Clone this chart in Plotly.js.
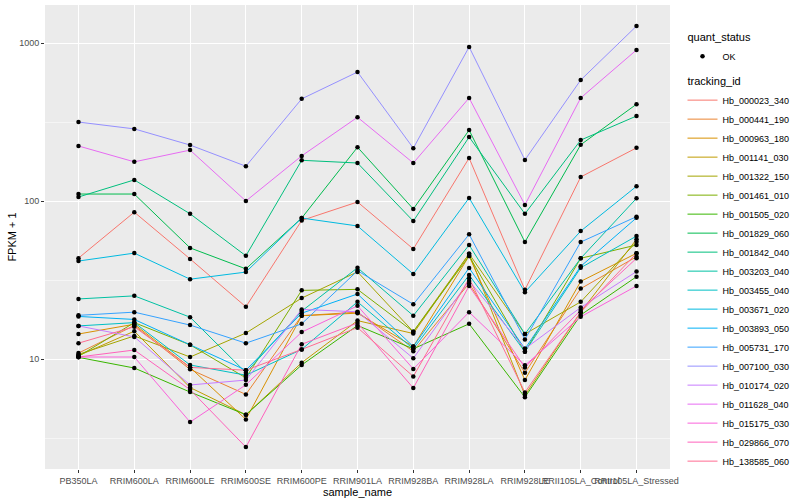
<!DOCTYPE html>
<html>
<head>
<meta charset="utf-8">
<script src="https://cdn.plot.ly/plotly-3.0.1.min.js"></script>
<style>html,body{margin:0;padding:0;background:#fff;}#chart{width:800px;height:500px;}</style>
</head>
<body>
<div id="chart"></div>
<script>
// ---- data ----
const sampleNames = ["PB350LA","RRIM600LA","RRIM600LE","RRIM600SE","RRIM600PE","RRIM901LA","RRIM928BA","RRIM928LA","RRIM928LE","RRII105LA_Control","RRII105LA_Stressed"];
const trackingIds = ["Hb_000023_340","Hb_000441_190","Hb_000963_180","Hb_001141_030","Hb_001322_150","Hb_001461_010","Hb_001505_020","Hb_001829_060","Hb_001842_040","Hb_003203_040","Hb_003455_040","Hb_003671_020","Hb_003893_050","Hb_005731_170","Hb_007100_030","Hb_010174_020","Hb_011628_040","Hb_015175_030","Hb_029866_070","Hb_138585_060"];

const Hb_000023_340 = [43.5, 85, 43, 21.4, 75.3, 98.6, 49.7, 187, 27.4, 142, 217];
const Hb_000441_190 = [10.9, 16.3, 8.6, 5.97, 18.8, 19.8, 11.2, 30.1, 8.18, 27.9, 44.4];
const Hb_000963_180 = [14.4, 16.6, 8.85, 4.15, 18.8, 19.5, 12.0, 44.9, 7.36, 31.0, 46.7];
const Hb_001141_030 = [10.5, 15.0, 6.6, 4.44, 9.48, 17.5, 14.5, 46.3, 5.91, 19.8, 57.3];
const Hb_001322_150 = [10.7, 14.0, 10.3, 14.6, 24.3, 35.6, 14.9, 46.3, 14.4, 23.0, 55.2];
const Hb_001461_010 = [10.4, 17.0, 12.3, 7.6, 27.2, 27.6, 14.9, 44.9, 11.1, 43.4, 52.7];
const Hb_001505_020 = [10.25, 8.77, 6.18, 4.44, 9.17, 16.3, 11.6, 16.7, 5.73, 19.0, 33.2];
const Hb_001829_060 = [110.7, 110.7, 50.5, 37.2, 78, 219, 89, 281, 55, 227, 410];
const Hb_001842_040 = [106, 136, 83, 45, 181, 174, 74.6, 254, 83, 243, 345];
const Hb_003203_040 = [24.0, 25.1, 18.4, 8.2, 20.1, 37.8, 18.8, 52.7, 14.4, 43.4, 104];
const Hb_003455_040 = [16.2, 17.0, 9.17, 7.9, 11.5, 23.0, 11.6, 34.0, 11.1, 37.8, 60];
const Hb_003671_020 = [41.7, 46.8, 32, 35.5, 78, 69.5, 34.5, 104.6, 26.5, 64.5, 124];
const Hb_003893_050 = [18.6, 17.8, 12.3, 8.5, 19.5, 25.8, 12.0, 37.7, 11.6, 38.6, 78.3];
const Hb_005731_170 = [18.9, 19.8, 16.4, 12.6, 16.7, 36.2, 22.2, 61.5, 13.3, 55, 79.6];
const Hb_007100_030 = [316, 286, 226, 166, 443, 655, 216, 944, 182, 583, 1280];
const Hb_010174_020 = [16.2, 13.8, 6.85, 7.36, 20.6, 19.9, 10.1, 31.2, 11.6, 21.2, 35.8];
const Hb_011628_040 = [223, 177, 210, 100, 193, 339, 174, 449, 94.5, 449, 904];
const Hb_015175_030 = [10.3, 10.3, 3.99, 6.87, 14.8, 21.7, 8.65, 19.8, 9.12, 18.5, 29.0];
const Hb_029866_070 = [10.3, 11.4, 6.4, 2.77, 12.4, 16.9, 6.55, 29.0, 8.85, 20.4, 43.4];
const Hb_138585_060 = [12.6, 16.0, 8.85, 8.5, 11.5, 15.8, 7.76, 32.4, 6.15, 19.8, 46.7];

const yTickVals = [10, 100, 1000];
const yTickText = ["10", "100", "1000"];

// ---- styles ----
const seriesColors = ["#F8766D","#EA8331","#D89000","#C09B00","#A3A500","#7CAE00","#39B600","#00BB4E","#00BF7D","#00C1A3","#00BFC4","#00BAE0","#00B0F6","#35A2FF","#9590FF","#C77CFF","#E76BF3","#FA62DB","#FF62BC","#FF6C91"];

const seriesValues = [Hb_000023_340,Hb_000441_190,Hb_000963_180,Hb_001141_030,Hb_001322_150,Hb_001461_010,Hb_001505_020,Hb_001829_060,Hb_001842_040,Hb_003203_040,Hb_003455_040,Hb_003671_020,Hb_003893_050,Hb_005731_170,Hb_007100_030,Hb_010174_020,Hb_011628_040,Hb_015175_030,Hb_029866_070,Hb_138585_060];

const FONT = "Liberation Sans, Arial, Helvetica, sans-serif";
const traces = [];
trackingIds.forEach((id, i) => {
  traces.push({
    type: "scatter", mode: "lines", name: id,
    x: sampleNames, y: seriesValues[i],
    line: {color: seriesColors[i], width: 1},
    legendgroup: "tracking", legendrank: 100 + i,
    legendgrouptitle: {text: "tracking_id", font: {size: 11, color: "#000"}},
    hoverinfo: "skip"
  });
});
const allX = [], allY = [];
seriesValues.forEach(v => { v.forEach((val, j) => { allX.push(sampleNames[j]); allY.push(val); }); });
traces.push({
  type: "scatter", mode: "markers", name: "OK",
  x: allX, y: allY,
  marker: {color: "#000", size: 4.5},
  legendgroup: "quant", legendrank: 1,
  legendgrouptitle: {text: "quant_status", font: {size: 11, color: "#000"}}
});

const minorVals = [Math.sqrt(10), Math.sqrt(1000), Math.sqrt(100000)];

const layout = {
  width: 800, height: 500,
  margin: {l: 45, r: 116, t: 5, b: 31},
  paper_bgcolor: "#FFFFFF", plot_bgcolor: "#EBEBEB",
  font: {family: FONT, size: 9, color: "#4D4D4D"},
  showlegend: true,
  legend: {x: 1.02, xanchor: "left", y: 0.962, yanchor: "top", traceorder: "grouped",
           tracegroupgap: 6, font: {size: 9, color: "#000"}, bgcolor: "rgba(0,0,0,0)", itemwidth: 30},
  xaxis: {
    type: "category", categoryorder: "array", categoryarray: sampleNames,
    range: [-0.6, 10.6], showgrid: true, gridcolor: "#FFFFFF", gridwidth: 1,
    zeroline: false, showline: false, ticks: "outside", ticklen: 3, tickcolor: "#333333",
    tickangle: 0, tickfont: {size: 9, color: "#4D4D4D", family: FONT},
    title: {text: "sample_name", font: {size: 11, color: "#000", family: FONT}, standoff: 0},
    automargin: false, fixedrange: true
  },
  yaxis: {
    type: "log", range: [0.304, 3.2405],
    tickmode: "array", tickvals: yTickVals, ticktext: yTickText,
    showgrid: true, gridcolor: "#FFFFFF", gridwidth: 1,
    minor: {tickmode: "array", tickvals: minorVals, showgrid: true, gridcolor: "#FFFFFF", gridwidth: 0.5, ticks: ""},
    zeroline: false, showline: false, ticks: "outside", ticklen: 3, tickcolor: "#333333",
    tickfont: {size: 9, color: "#4D4D4D", family: FONT},
    title: {text: "FPKM + 1", font: {size: 11, color: "#000", family: FONT}, standoff: 0},
    automargin: false, fixedrange: true
  }
};

Plotly.newPlot("chart", traces, layout, {displayModeBar: false, staticPlot: true});
</script>
</body>
</html>
